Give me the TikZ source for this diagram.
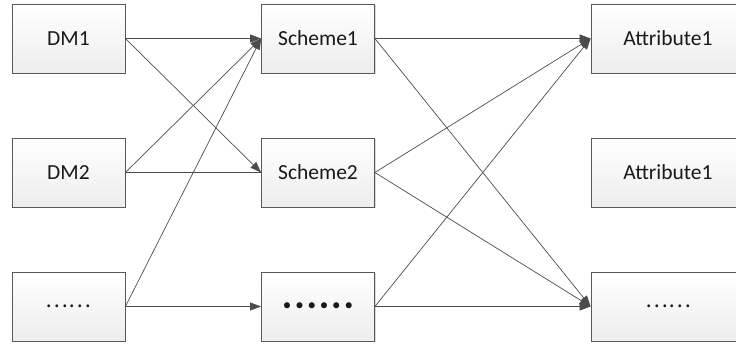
\documentclass[tikz,border=0pt]{standalone}
\usepackage{fontspec}
\setmainfont{Carlito}
\newfontfamily\cjkdots{Noto Sans CJK SC}
\usepackage{tikz}
\usetikzlibrary{arrows.meta}
\usetikzlibrary{shadows}

\tikzset{
    box/.style={draw=black!65, line width=0.8pt, top color=white, bottom color=black!7,
        minimum width=113pt, minimum height=69pt, inner sep=0pt,
        font=\fontsize{21.5}{26}\selectfont, text=black!90,
        drop shadow={shadow xshift=1.2pt, shadow yshift=-1.2pt, fill=black!25, opacity=0.6}},
    widebox/.style={box, minimum width=154pt},
    link/.style={draw=black!70, line width=0.7pt},
    arrowlink/.style={link, -{Triangle[length=11pt, width=8pt]}}
}

\begin{document}
\begin{tikzpicture}[x=1pt, y=-1pt]
    \useasboundingbox (0,0) rectangle (736,347);
    \clip (0,0) rectangle (736,347);
    % decision makers
    \node[box] (dm1) at (68.5,38.5) {DM1};
    \node[box] (dm2) at (68.5,172.5) {DM2};
    \node[box] (dm3) at (68.5,306.5) {\cjkdots ……};
    % schemes
    \node[box] (sc1) at (318,38.5) {Scheme1};
    \node[box] (sc2) at (318,172.5) {Scheme2};
    \node[box, font=\fontsize{17}{20}\selectfont] (sc3) at (318,306.5) {• • • • • •};
    % attributes
    \node[widebox] (at1) at (668,38.5) {Attribute1};
    \node[widebox] (at2) at (668,172.5) {Attribute1};
    \node[widebox] (at3) at (668,306.5) {\cjkdots ……};

    \draw[arrowlink] (dm1.east) -- (sc1.west);
    \draw[arrowlink] (dm1.east) -- (sc2.west);
    \draw[arrowlink] (dm2.east) -- (sc1.west);
    \draw[link] (dm2.east) -- (sc2.west);
    \draw[arrowlink] (dm3.east) -- (sc1.west);
    \draw[arrowlink] (dm3.east) -- (sc3.west);

    \draw[arrowlink] (sc1.east) -- (at1.west);
    \draw[arrowlink] (sc1.east) -- (at3.west);
    \draw[arrowlink] (sc2.east) -- (at1.west);
    \draw[arrowlink] (sc2.east) -- (at3.west);
    \draw[arrowlink] (sc3.east) -- (at1.west);
    \draw[arrowlink] (sc3.east) -- (at3.west);
\end{tikzpicture}
\end{document}
